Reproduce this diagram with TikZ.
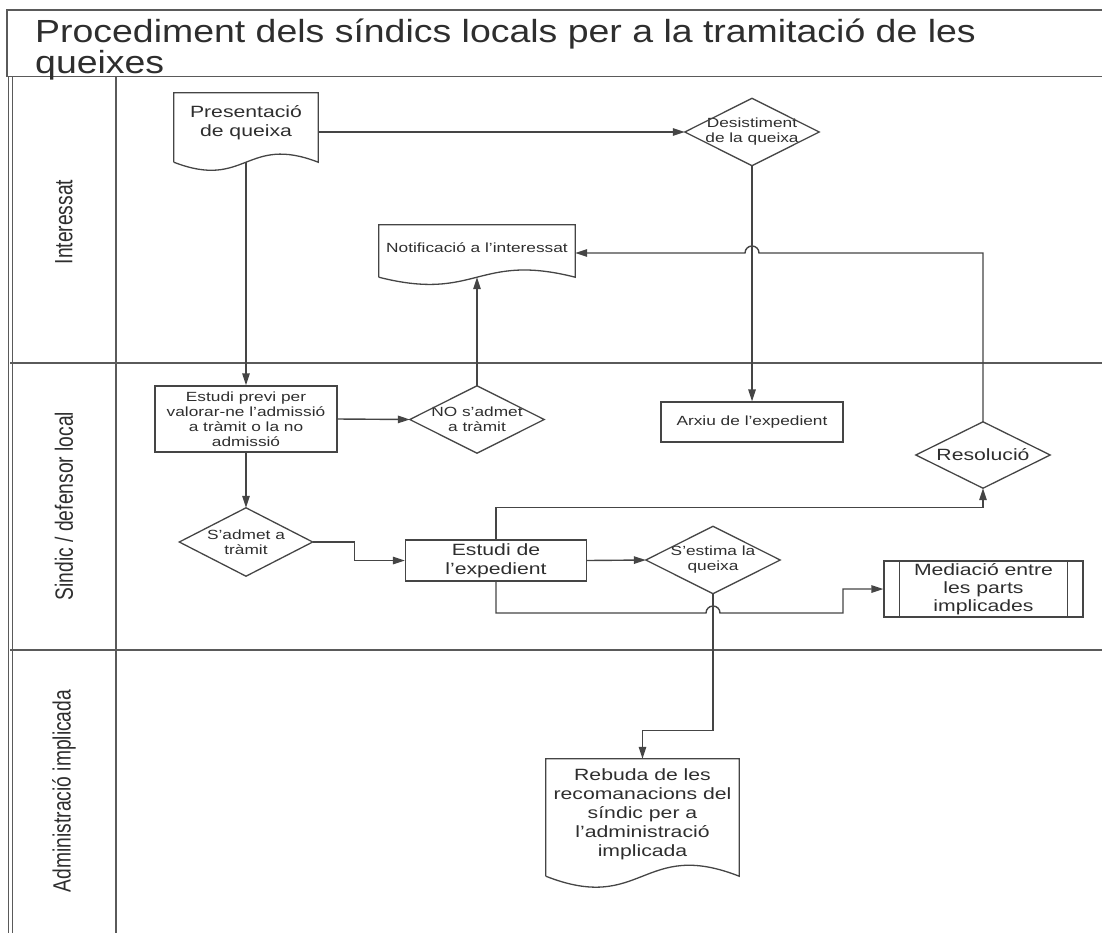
\documentclass[tikz,border=0pt]{standalone}
\usepackage{fontspec}
\setmainfont{Liberation Sans}[FakeStretch=1.3]
\newfontfamily\lanefont{Liberation Sans}[FakeStretch=0.77]
\newfontfamily\titlefont{Liberation Sans}[FakeStretch=1.17]
\usetikzlibrary{arrows.meta,calc}
\definecolor{ln}{HTML}{454545}
\definecolor{fr}{HTML}{5a5a5a}
\definecolor{tx}{HTML}{2e2e2e}
\tikzset{
  box/.style={inner sep=0pt, align=center, text=tx, font=\fontsize{13.3}{15}\selectfont},
  big/.style={font=\fontsize{16.3}{19}\selectfont},
  rectbox/.style={box, draw=ln, line width=1.3pt},
  outline/.style={draw=ln, line width=1.3pt},
  conn/.style={draw=ln, line width=1.4pt},
  arr/.style={conn, -{Triangle[length=12pt,width=7.5pt]}},
  frame/.style={draw=fr, line width=1.8pt},
  lanelabel/.style={rotate=90, text=tx, inner sep=0pt, font=\lanefont\fontsize{25}{28}\selectfont},
  titletext/.style={anchor=north west, align=left, inner sep=0pt, text=tx, font=\titlefont\fontsize{32}{27}\selectfont},
}
% document shape: node box is the text area; #3 = extra height below the node box to the corners
\newcommand{\docpath}[3]{%
  \draw[outline] ($(#1.south west)+(0,#3)$) -- (#1.north west) -- (#1.north east) -- ($(#1.south east)+(0,#3)$)
    .. controls ($(#1.south)+(0,#3-#2)$) and ($(#1.south)+(0,#3+#2)$) .. ($(#1.south west)+(0,#3)$);}
\newcommand{\diapath}[1]{%
  \draw[outline] (#1.north) -- (#1.east) -- (#1.south) -- (#1.west) -- cycle;}
\begin{document}
\begin{tikzpicture}[x=1pt,y=-1pt]
\useasboundingbox (0,0) rectangle (1102,932);
\clip (0,0) rectangle (1102,932);

% title box and swimlanes
\draw[frame] (1110,10) -- (7,10) -- (7,76.5) -- (1110,76.5);
\draw[draw=fr, line width=1pt] (8,77) -- (8,940);
\draw[draw=fr, line width=1pt] (12,77) -- (12,940);
\draw[frame] (116,77) -- (116,940);
\draw[frame] (10,363) -- (1110,363);
\draw[frame] (10,650) -- (1110,650);

\node[titletext] (title) at (35,19) {Procediment dels síndics locals per a la tramitació de les\\queixes};

\node[lanelabel] (l1) at (64,222) {Interessat};
\node[lanelabel] (l2) at (64,506) {Sindic / defensor local};
\node[lanelabel] (l3) at (64,791) {Administració implicada};

% nodes
\node[box, big, minimum width=144pt, minimum height=60pt] (pres) at (246,123) {Presentació\\de queixa};
\docpath{pres}{28}{9}
\node[box, minimum width=196pt, minimum height=46pt] (notif) at (477,248) {Notificació a l’interessat};
\docpath{notif}{25}{6}
\node[box, minimum width=134pt, minimum height=67pt] (desist) at (752,132) {Desistiment\\de la queixa};
\diapath{desist}

\node[rectbox, minimum width=182pt, minimum height=66pt] (previ) at (246,419) {Estudi previ per\\valorar-ne l’admissió\\a tràmit o la no\\admissió};
\node[box, minimum width=134pt, minimum height=67pt] (noadm) at (477,419.5) {NO s’admet\\a tràmit};
\diapath{noadm}
\node[rectbox, minimum width=182pt, minimum height=40pt] (arxiu) at (752,422) {Arxiu de l’expedient};
\node[box, big, minimum width=134pt, minimum height=66pt] (resol) at (983,455) {Resolució};
\diapath{resol}
\node[box, minimum width=133pt, minimum height=68pt] (admet) at (246,542) {S’admet a\\tràmit};
\diapath{admet}
\node[rectbox, big, minimum width=181pt, minimum height=41pt] (estudi) at (496,560.5) {Estudi de\\l’expedient};
\node[box, minimum width=134pt, minimum height=67pt] (estima) at (713,560) {S’estima la\\queixa};
\diapath{estima}
\node[rectbox, font=\fontsize{16.3}{18}\selectfont, minimum width=199pt, minimum height=56pt] (media) at (983.5,589) {Mediació entre\\les parts\\implicades};
\draw[outline] ($(media.north west)+(16,0)$) -- ($(media.south west)+(16,0)$);
\draw[outline] ($(media.north east)+(-16,0)$) -- ($(media.south east)+(-16,0)$);
\node[box, big, minimum width=193pt, minimum height=111pt] (rebuda) at (642.5,814.5) {Rebuda de les\\recomanacions del\\síndic per a\\l’administració\\implicada};
\docpath{rebuda}{38}{6}

% connectors
\coordinate (lowturn) at (843,613);
\draw[arr] (desist.west -| pres.east) -- (desist.west);
\draw[arr] ($(pres.south)+(0,9)$) -- (previ.north);
\draw[arr] (desist.south) -- (arxiu.north);
\draw[arr] (resol.north) -- ($(resol.north |- notif.east)+(0,5)$) -- ($(desist.south |- notif.east)+(7,5)$) arc[start angle=0,end angle=180,radius=7pt] -- ($(notif.east)+(0,5)$);
\draw[arr] (noadm.north) -- ($(notif.south)+(0,6)$);
\draw[arr] (previ.east) -- (noadm.west);
\draw[arr] (previ.south) -- (admet.north);
\draw[arr] (admet.east) -- ++(42,0) |- (estudi.west);
\draw[arr] (estudi.east) -- (estima.west);
\draw[arr] (estudi.north) -- ++(0,-32) -| (resol.south);
\draw[arr] (estudi.south) |- ($(estima.south |- lowturn)+(-7,0)$) arc[start angle=180,end angle=0,radius=7pt] -- (lowturn) |- (media.west);
\draw[arr] (estima.south) -- ++(0,137) -| (rebuda.north);
\end{tikzpicture}
\end{document}
